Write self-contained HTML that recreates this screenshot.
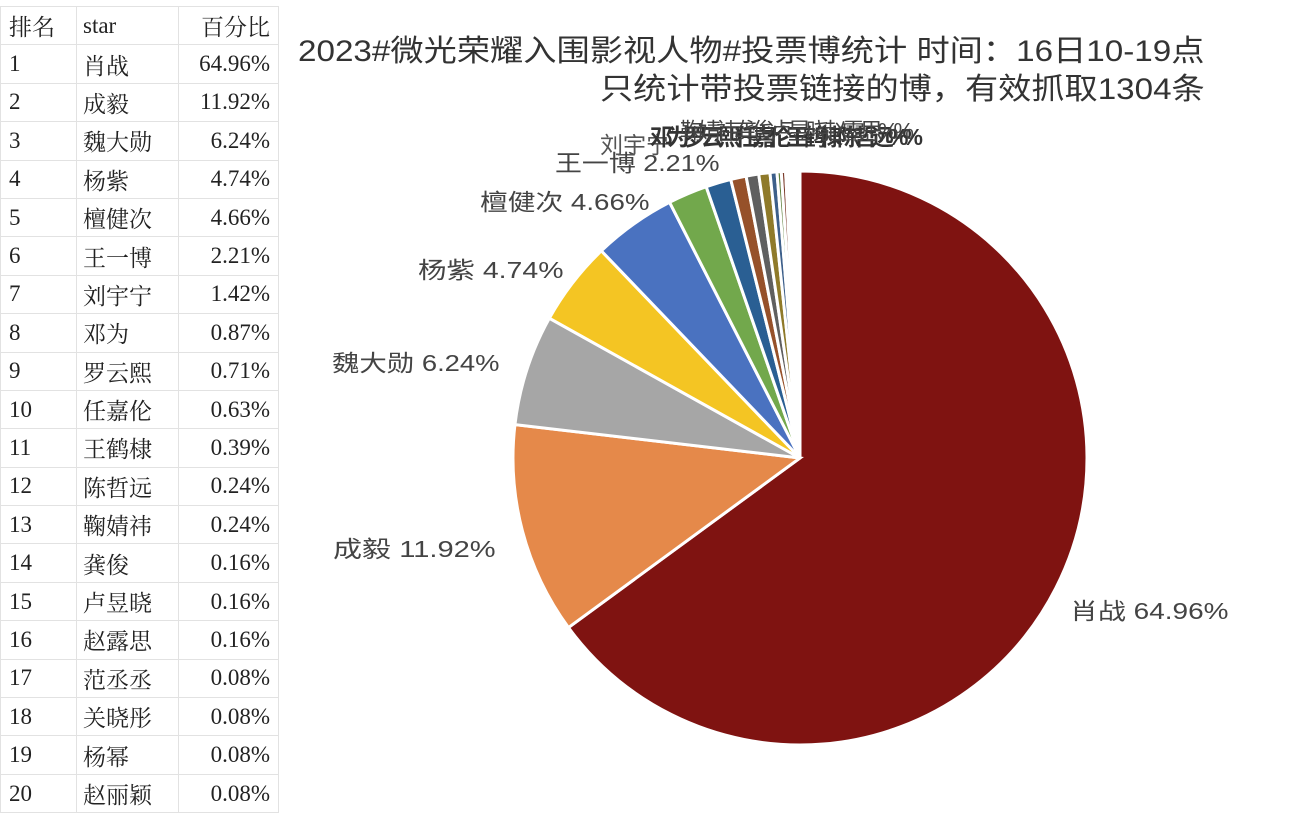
<!DOCTYPE html>
<html><head><meta charset="utf-8"><style>
body{margin:0;width:1294px;height:812px;background:#fff;overflow:hidden;position:relative;font-family:"Liberation Sans","Noto Sans CJK SC",sans-serif}
table{position:absolute;left:0;top:6px;border-collapse:collapse;font-family:"Liberation Serif","Noto Serif CJK SC",serif;color:#222}
td{height:38.4px;border:1px solid #e2e2e2;padding:0;font-size:23px;box-sizing:border-box}
td.a{width:76px;padding-left:8px}
td.b{width:102px;padding-left:6px}
td.c{width:100px;text-align:right;padding-right:8px}
.t{position:absolute;color:#333;white-space:nowrap;transform-origin:0 0}
.l{position:absolute;color:#444;font-size:23px;white-space:nowrap;transform-origin:0 0}
</style></head><body>
<table id="tb"></table>
<svg id="pie" width="1294" height="812" style="position:absolute;left:0;top:0"></svg>
<div class="t" id="t1" style="left:298px;top:26px;font-size:30px">2023#微光荣耀入围影视人物#投票博统计 时间：16日10-19点</div>
<div class="t" id="t2" style="left:600px;top:64px;font-size:30px">只统计带投票链接的博，有效抓取1304条</div>
<div class="l" id="l1" style="left:1070px;top:592px">肖战 64.96%</div>
<div class="l" id="l2" style="left:333px;top:530px">成毅 11.92%</div>
<div class="l" id="l3" style="left:332px;top:344px">魏大勋 6.24%</div>
<div class="l" id="l4" style="left:418px;top:251px">杨紫 4.74%</div>
<div class="l" id="l5" style="left:480px;top:183px">檀健次 4.66%</div>
<div class="l" id="l6" style="left:555px;top:144px">王一博 2.21%</div>
<div class="l" style="left:600px;top:126px;color:#555">刘宇宁</div>
<div class="l" style="left:650px;top:118px;color:#333;letter-spacing:-6px;font-weight:bold">邓为罗云熙任嘉伦王鹤棣陈哲远%%</div>
<div class="l" style="left:680px;top:112px;color:#444;letter-spacing:-5px">鞠婧祎龚俊卢昱晓赵露思%%</div>
<script>
var d=[["排名","star","百分比"],["1","肖战","64.96%"],["2","成毅","11.92%"],["3","魏大勋","6.24%"],["4","杨紫","4.74%"],["5","檀健次","4.66%"],["6","王一博","2.21%"],["7","刘宇宁","1.42%"],["8","邓为","0.87%"],["9","罗云熙","0.71%"],["10","任嘉伦","0.63%"],["11","王鹤棣","0.39%"],["12","陈哲远","0.24%"],["13","鞠婧祎","0.24%"],["14","龚俊","0.16%"],["15","卢昱晓","0.16%"],["16","赵露思","0.16%"],["17","范丞丞","0.08%"],["18","关晓彤","0.08%"],["19","杨幂","0.08%"],["20","赵丽颖","0.08%"]];
var h="";d.forEach(function(r,i){h+='<tr><td class="a">'+r[0]+'</td><td class="b">'+r[1]+'</td><td class="c">'+r[2]+'</td></tr>'});
document.getElementById("tb").innerHTML=h;
function fit(id,w){var e=document.getElementById(id);e.style.transform="scaleX("+(w/e.offsetWidth)+")";}
fit("t1",907);fit("t2",605);fit("l1",158);fit("l2",163);fit("l3",168);fit("l4",146);fit("l5",170);fit("l6",165);
var v=[64.96,11.92,6.24,4.74,4.66,2.21,1.42,0.87,0.71,0.63,0.39,0.24,0.24,0.16,0.16,0.16,0.08,0.08,0.08,0.08];
var c=["#7f1311","#e5894a","#a6a6a6","#f4c523","#4a72c0","#72a84c","#2a5f93","#96512a","#5f5f5f","#8f7a2a","#3d5f8a","#5d7e3a","#7a3a2a","#888","#a08a40","#4a6a9a","#6a8a4a","#8a4a3a","#777","#9a8a5a"];
var cx=800,cy=458,R=287,a=0,s="",tot=v.reduce(function(x,y){return x+y},0);
v.forEach(function(p,i){var b=a+p/tot*2*Math.PI;
var x1=cx+R*Math.sin(a),y1=cy-R*Math.cos(a),x2=cx+R*Math.sin(b),y2=cy-R*Math.cos(b);
s+='<path d="M'+cx+' '+cy+'L'+x1+' '+y1+'A'+R+' '+R+' 0 '+((b-a)>Math.PI?1:0)+' 1 '+x2+' '+y2+'Z" fill="'+c[i]+'" stroke="#fff" stroke-width="3"/>';a=b});
document.getElementById("pie").innerHTML=s;
</script>
</body></html>
